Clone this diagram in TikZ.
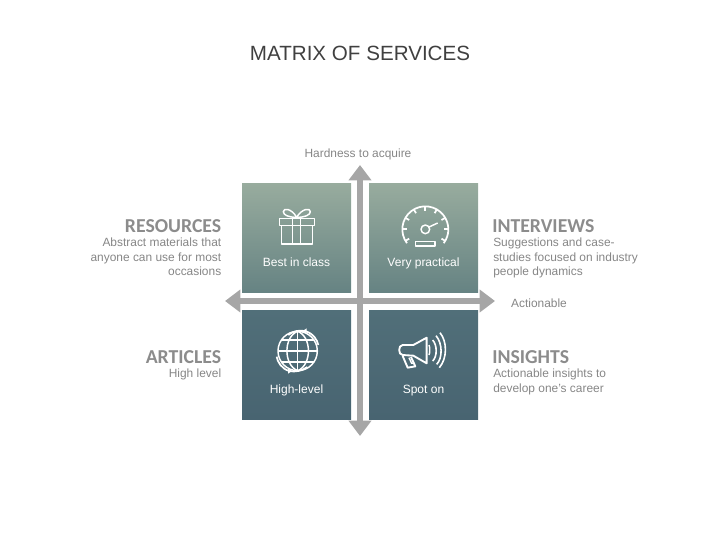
\documentclass[tikz,border=0pt]{standalone}
\usepackage{fontspec}
\setmainfont{Liberation Sans}
\newfontfamily\headfont{Carlito}
\usetikzlibrary{arrows.meta}
\definecolor{bodygray}{RGB}{134,134,134}
\definecolor{headgray}{RGB}{140,140,140}
\definecolor{arrowgray}{RGB}{166,166,166}
\definecolor{titlegray}{RGB}{64,64,64}
\tikzset{
  tile/.style={minimum size=81.75pt,inner sep=0pt,outer sep=0pt,shape=rectangle},
  upper/.style={tile,top color=tileA,bottom color=tileB},
  lower/.style={tile,top color=tileC,bottom color=tileD},
  axis/.style={draw=arrowgray,line width=4.5pt,{Triangle[width=16.5pt,length=11.5pt]}-{Triangle[width=16.5pt,length=11.5pt]},shorten <=0pt,shorten >=0pt},
  tilecap/.style={text=white,font=\fontsize{9}{11}\selectfont,inner sep=0pt,anchor=base},
  headline/.style={text=headgray,font=\headfont\bfseries\fontsize{14.8}{15}\selectfont,inner sep=0pt},
  desc/.style={text=bodygray,font=\fontsize{8.95}{11}\selectfont,inner sep=0pt},
  icon/.style={draw=white,line width=1.1pt,line join=round},
}
\definecolor{tileA}{RGB}{152,172,158}
\definecolor{tileB}{RGB}{102,131,131}
\definecolor{tileC}{RGB}{81,111,121}
\definecolor{tileD}{RGB}{72,100,113}
\begin{document}
\begin{tikzpicture}[x=0.75pt,y=-0.75pt]
\useasboundingbox (0,0) rectangle (720,540);
\node[inner sep=0pt,text=titlegray,font=\fontsize{15.45}{18}\selectfont] (title) at (360,53) {MATRIX OF SERVICES};
\node[desc,anchor=base] (yaxis) at (358,157) {Hardness to acquire};
\node[desc,anchor=base] (xaxis) at (539,307) {Actionable};

\coordinate (top) at (360,165);
\coordinate (bottom) at (360,436);
\coordinate (left) at (225,301);
\coordinate (right) at (495,301);
\draw[axis] (top) -- (bottom);
\draw[axis] (left) -- (right);

\node[upper] (tl) at (296.5,237.5) {};
\node[upper] (tr) at (423.5,237.5) {};
\node[lower] (bl) at (296.5,364.5) {};
\node[lower] (br) at (423.5,364.5) {};

\node[tilecap] (tlc) at (296.5,266.5) {Best in class};
\node[tilecap] (trc) at (423.5,266.5) {Very practical};
\node[tilecap] (blc) at (296.5,393.5) {High-level};
\node[tilecap] (brc) at (423.5,393.5) {Spot on};

\node[headline,anchor=base east] (res) at (221.5,232) {RESOURCES};
\node[desc,anchor=north east,align=right] (resd) at (221.5,237.5) {Abstract materials that\\anyone can use for most\\occasions};
\node[headline,anchor=base east] (art) at (221.5,363) {ARTICLES};
\node[desc,anchor=north east,align=right] (artd) at (221.5,368.5) {High level};
\node[headline,anchor=base west] (int) at (492,232) {INTERVIEWS};
\node[desc,anchor=north west,align=left] (intd) at (493,237.5) {Suggestions and case-\\studies focused on industry\\people dynamics};
\node[headline,anchor=base west] (ins) at (492,363) {INSIGHTS};
\node[desc,anchor=north west,align=left] (insd) at (493,368.5) {Actionable insights to\\develop one's career};

% gift
\begin{scope}[shift={(230,160)},scale=1/3]
\draw[icon] (148,175) rectangle (254,197);
\draw[icon] (155,197) rectangle (248,252);
\draw[icon] (188,175) -- (188,252) (212,175) -- (212,252);
\draw[icon] (200,172) .. controls (175,172) and (160,165) .. (160,155) .. controls (160,143) and (185,145) .. (200,172)
  .. controls (215,145) and (242,143) .. (241,155) .. controls (241,165) and (225,172) .. (200,172);
\end{scope}
% gauge
\begin{scope}[shift={(230,160)},scale=1/3]
\draw[icon,line width=1.3pt] (586,208)++(143:69) arc[start angle=143,end angle=397,radius=69];
\foreach \a in {150,180,210,240,270,300,330,360,390}
  \draw[icon,line width=1.3pt] (586,208)++(\a:69) -- ++(\a+180:13);
\draw[icon] (586,208) circle[radius=13];
\draw[icon] (597,201) -- (623,189);
\draw[icon] (556,244) rectangle (615,258);
\end{scope}
% globe
\begin{scope}[shift={(230,295)},scale=1/3]
\draw[icon] (203,168) circle[radius=59];
\draw[icon] (203,109) -- (203,227);
\draw[icon] (203,109) .. controls (160,125) and (160,210) .. (203,227);
\draw[icon] (203,109) .. controls (246,125) and (246,210) .. (203,227);
\draw[icon] (146,168) -- (260,168);
\draw[icon] (155,135) -- (251,135) (155,201) -- (251,201);
\draw[icon,line width=1.3pt] (175,120) .. controls (190,108) and (205,105) .. (225,108) .. controls (250,115) and (262,135) .. (265,150);
\draw[icon,line width=1.3pt] (232,216) .. controls (215,228) and (195,232) .. (178,228) .. controls (155,222) and (142,200) .. (140,185);
\fill[white] (218,108) -- (230,100) -- (230,116) -- cycle;
\fill[white] (186,228) -- (174,220) -- (174,236) -- cycle;
\end{scope}
% megaphone
\begin{scope}[shift={(230,295)},scale=1/3]
\draw[icon,line width=1.4pt] (590,128) -- (590,205) -- (550,182) -- (518,180) .. controls (504,180) and (504,150) .. (518,150) -- (550,150) -- cycle;
\draw[icon] (597,150) .. controls (600,155) and (600,175) .. (597,180);
\draw[icon,line width=1.4pt] (518,183) -- (533,218) -- (556,214) -- (543,186);
\draw[icon] (537,188) -- (545,205) -- (553,203);
\draw[icon,line width=1.2pt] (608,135) .. controls (622,150) and (622,185) .. (608,198);
\draw[icon,line width=1.2pt] (618,122) .. controls (638,145) and (638,190) .. (620,208);
\draw[icon,line width=1.2pt] (630,113) .. controls (652,140) and (652,190) .. (628,218);
\end{scope}
\end{tikzpicture}
\end{document}
